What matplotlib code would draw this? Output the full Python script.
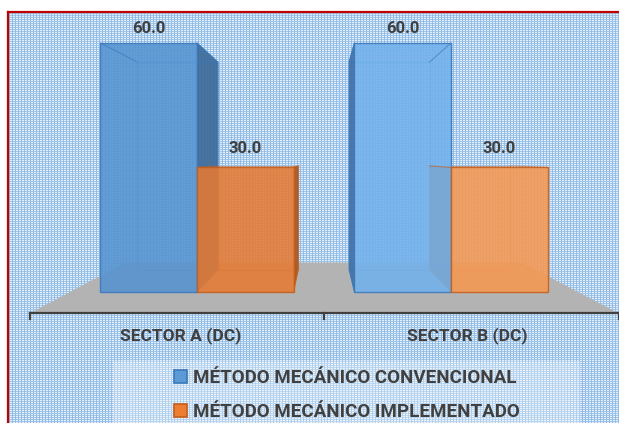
import numpy as np
import matplotlib
matplotlib.use('Agg')
import matplotlib.pyplot as plt
from matplotlib.patches import Polygon, Rectangle
from matplotlib.lines import Line2D

# Data
categories = ['SECTOR A (DC)', 'SECTOR B (DC)']
series = ['MÉTODO MECÁNICO CONVENCIONAL', 'MÉTODO MECÁNICO IMPLEMENTADO']
convencional = [60.0, 60.0]
implementado = [30.0, 30.0]

# Styles (per category, excel-like shading)
blue_face = ['#5593d0', '#72b1ec']
blue_side = ['#3a6898', '#3f6fa3']
blue_edge = '#3b78bb'
orange_face = ['#e57a33', '#f69851']
orange_side = ['#a4541f', '#b25f26']
orange_edge = '#c55e1c'
text_color = '#404040'
FONT = 'Roboto'

W, H = 619, 423
fig = plt.figure(figsize=(W / 100, H / 100), dpi=100)

# dotted light-blue chart area background
yy, xx = np.mgrid[0:H, 0:W]
bg = np.empty((H, W, 3))
bg[:] = np.array([160, 198, 234]) / 255
bg[(xx % 3 != 0) & (yy % 2 == 0)] = np.array([228, 239, 250]) / 255
bg[xx % 3 == 0] = np.array([146, 188, 229]) / 255
bg[yy < 12] = 1.0
bg[:, :7] = 1.0
fig.figimage(bg, xo=0, yo=0, origin='upper', zorder=0)

ax = fig.add_axes([0, 0, 1, 1], zorder=1)
ax.set_xlim(-0.7756, 1.6614)
ax.set_ylim(-31.57, 70.36)
ax.axis('off')

# perspective helpers
VX, VY = 0.492, 32.3
K_BAR, K_FRONT, K_BACK = 0.835, 1.16, 0.78
w = 0.38


def proj(x, y, k):
    return VX + (x - VX) * k, VY + (y - VY) * k


# red chart border
ax.add_line(Line2D([7.5 / W, 7.5 / W], [0, 1 - 12.5 / H], transform=ax.transAxes,
                   color='#c00000', lw=1.6, zorder=5))
ax.add_line(Line2D([7.5 / W, 1], [1 - 12.5 / H, 1 - 12.5 / H], transform=ax.transAxes,
                   color='#c00000', lw=1.6, zorder=5))

# legend backdrop
ax.add_patch(Rectangle((113 / W, 0), 467 / W, 1 - 361 / H, transform=ax.transAxes,
                       facecolor='white', alpha=0.3, lw=0, zorder=1))

# floor
x_lo, x_hi = -0.5, len(categories) - 0.5
floor = [proj(x_lo, 0, K_FRONT), proj(x_hi, 0, K_FRONT),
         proj(x_hi, 0, K_BACK), proj(x_lo, 0, K_BACK)]
ax.add_patch(Polygon(floor, closed=True, facecolor='#b3b3b3', edgecolor='none', zorder=2))

# category axis with tick marks
fx0, fy = proj(x_lo, 0, K_FRONT)
fx1, _ = proj(x_hi, 0, K_FRONT)
ax.plot([fx0, fx1], [fy, fy], color=text_color, lw=1.6, zorder=3)
for b in np.arange(x_lo, x_hi + 0.01, 1.0):
    tx, _ = proj(b, 0, K_FRONT)
    ax.plot([tx, tx], [fy, fy - 1.3], color=text_color, lw=1.6, zorder=3)


def bar_depth(x0, h, side_color, edge):
    x1 = x0 + w
    b00, b10 = proj(x0, 0, K_BAR), proj(x1, 0, K_BAR)
    b11, b01 = proj(x1, h, K_BAR), proj(x0, h, K_BAR)
    if (x0 + x1) / 2 < VX:
        side = [(x1, 0), (x1, h), b11, b10]
    else:
        side = [(x0, 0), (x0, h), b01, b00]
    ax.add_patch(Polygon(side, closed=True, facecolor=side_color, edgecolor=edge,
                         lw=0.8, alpha=0.9, zorder=4))
    # back face outline and top edges
    ax.add_patch(Polygon([b00, b10, b11, b01], closed=True, fill=False,
                         edgecolor=edge, lw=0.8, alpha=0.5, zorder=4))
    for cx in (x0, x1):
        bx, by = proj(cx, h, K_BAR)
        ax.plot([cx, bx], [h, by], color=edge, lw=0.8, alpha=0.6, zorder=6)


idx = np.arange(len(categories))
for i in idx:
    bar_depth(i - w, convencional[i], blue_side[i], blue_edge)
    bar_depth(i, implementado[i], orange_side[i], orange_edge)

bars_c = ax.bar(idx - w, convencional, w, align='edge', color=blue_face, alpha=0.88,
                edgecolor=blue_edge, lw=1.0, zorder=5, label=series[0])
bars_i = ax.bar(idx, implementado, w, align='edge', color=orange_face, alpha=0.88,
                edgecolor=orange_edge, lw=1.0, zorder=5, label=series[1])

# value labels, anchored slightly into the depth of each bar top
for bars, vals in ((bars_c, convencional), (bars_i, implementado)):
    for rect, v in zip(bars, vals):
        _, ly = proj(rect.get_x() + w / 2, v, 0.96)
        ax.annotate(f'{v:.1f}', (rect.get_x() + w / 2, ly), xytext=(0, 13.7),
                    textcoords='offset points', ha='center', va='center',
                    fontsize=12, fontweight='bold', family=FONT, color=text_color, zorder=7)

# category labels
for i, cat in zip(idx, categories):
    lx, _ = proj(i, 0, 1.13)
    ax.text(lx, -10.6, cat, ha='center', va='center', fontsize=12.5,
            fontweight='bold', family=FONT, color=text_color, zorder=7)

handles = [Rectangle((0, 0), 1, 1, facecolor='#5b9bd5', edgecolor=blue_edge, lw=1.2),
           Rectangle((0, 0), 1, 1, facecolor='#ed7d31', edgecolor=orange_edge, lw=1.2)]
leg = ax.legend(handles, series, loc='upper left', bbox_to_anchor=(174 / W, 1 - 369 / H),
                bbox_transform=fig.transFigure, frameon=False, borderpad=0, borderaxespad=0,
                handlelength=0.7, handleheight=0.7, handletextpad=0.3, labelspacing=0.85,
                prop={'family': FONT, 'weight': 'bold', 'size': 13.5})
for t in leg.get_texts():
    t.set_color(text_color)
leg.set_zorder(8)

fig.savefig('out.png', dpi=100)
